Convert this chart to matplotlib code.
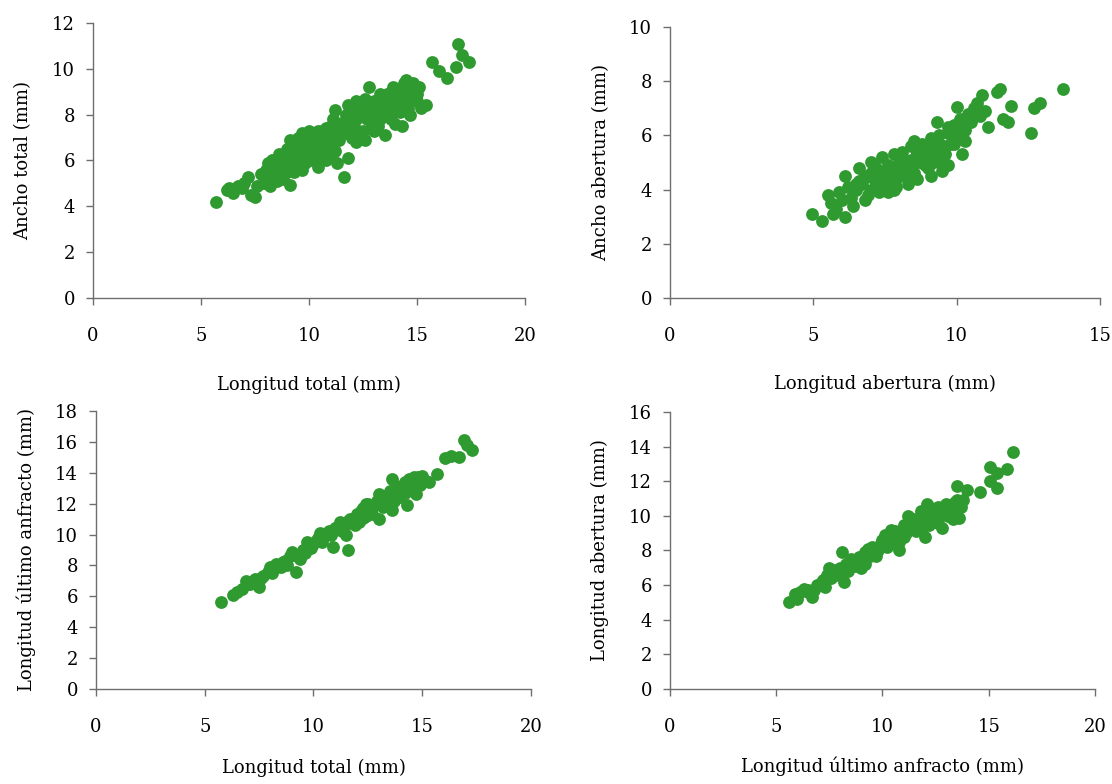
import matplotlib
matplotlib.use('Agg')
import matplotlib.pyplot as plt

# ---- data (mm) ----
# panel 1: longitud total vs ancho total
lt_1 = [5.7, 6.2, 6.3, 6.5, 6.7, 6.9, 7.0, 7.2, 7.3, 7.5, 7.6,
        7.8, 7.9, 8.0, 8.1, 8.2, 8.3, 8.4, 8.5, 8.5, 8.6, 8.7, 8.8, 8.9, 9.0, 8.2, 8.6, 9.0,
        9.1, 9.1, 9.2, 9.3, 9.4, 9.5, 9.5, 9.6, 9.7, 9.8, 9.9, 10.0, 10.0, 10.1, 10.2, 10.3,
        10.4, 10.4, 10.5, 9.3, 9.7, 10.2,
        10.6, 10.7, 10.8, 10.9, 11.0, 11.0, 11.1, 11.2, 11.3, 11.3, 11.4, 11.5, 11.6, 11.6,
        11.7, 11.8, 11.9, 12.0, 10.8, 11.2, 11.8,
        12.1, 12.2, 12.2, 12.3, 12.4, 12.5, 12.6, 12.6, 12.7, 12.8, 12.8, 12.9, 13.0, 13.1,
        13.2, 13.3, 13.4, 13.5, 12.4, 13.0, 13.3,
        13.6, 13.7, 13.8, 13.9, 14.0, 14.0, 14.1, 14.2, 14.3, 14.4, 14.4, 14.5, 14.6, 14.7,
        14.8, 14.9, 15.0, 15.1, 15.2, 15.4, 13.8, 14.3, 14.6,
        15.7, 16.0, 16.4, 16.8, 16.9, 17.1, 17.4,
        8.3, 8.7, 9.0, 9.2, 9.4, 9.6, 9.8, 10.0, 10.2, 10.4, 10.6, 10.8, 11.0, 11.2,
        11.4, 11.6, 11.8, 12.0, 12.2, 12.4, 12.6, 12.8, 13.0, 13.2, 13.4, 13.6, 13.8,
        14.0, 14.2, 14.4, 14.6, 14.8, 9.5, 10.3, 10.9, 11.5, 12.1, 12.7, 13.3, 13.9,
        14.5, 15.0]
at_1 = [4.2, 4.7, 4.8, 4.6, 4.9, 4.8, 5.0, 5.3, 4.5, 4.4, 4.9,
        5.4, 5.0, 5.6, 5.9, 5.3, 6.0, 5.5, 5.8, 5.1, 6.3, 5.7, 5.2, 6.0, 6.5, 4.9, 6.1, 5.5,
        6.9, 4.95, 6.2, 5.8, 6.6, 6.0, 7.0, 6.4, 7.2, 5.9, 6.8, 6.3, 7.3, 6.0, 6.9, 6.5,
        7.3, 5.7, 6.2, 5.5, 5.6, 7.0,
        7.0, 6.6, 7.4, 6.2, 7.1, 6.7, 7.8, 8.2, 5.9, 7.4, 6.9, 7.6, 5.3, 7.2,
        8.0, 6.1, 7.6, 7.0, 6.0, 6.4, 8.4,
        7.5, 8.6, 6.8, 7.9, 8.2, 7.3, 8.7, 6.9, 7.8, 9.2, 8.3, 7.6, 8.0, 8.6,
        7.5, 8.9, 8.2, 7.1, 7.2, 7.3, 7.8,
        8.4, 8.9, 7.8, 9.2, 8.5, 7.6, 9.0, 8.1, 7.5, 9.4, 8.6, 9.5, 8.9, 8.0,
        9.4, 8.7, 8.6, 9.2, 8.3, 8.4, 8.1, 8.8, 9.1,
        10.3, 9.9, 9.6, 10.1, 11.1, 10.6, 10.3,
        5.6, 5.9, 6.1, 5.9, 6.3, 6.5, 6.4, 6.8, 6.5, 6.9, 7.3, 6.8, 7.5, 7.0,
        7.6, 7.7, 7.3, 8.1, 7.8, 8.0, 8.2, 7.9, 8.6, 8.3, 8.7, 8.9, 8.6,
        9.1, 8.8, 9.0, 8.3, 9.0, 6.7, 6.7, 6.9, 7.3, 8.1, 8.5, 8.5, 8.8,
        8.4, 8.9]

# panel 2: longitud abertura vs ancho abertura
la_2 = [4.95, 5.3, 5.5, 5.7, 5.6, 5.9, 6.1, 6.0, 6.2, 6.3, 6.4, 5.8, 6.5, 6.1,
        6.6, 6.7, 6.8, 6.9, 7.0, 7.0, 7.1, 7.2, 7.3, 7.3, 7.4, 7.5, 7.6, 7.6, 7.7, 7.8,
        7.9, 8.0, 6.5, 6.9, 7.4, 7.8,
        8.1, 8.2, 8.3, 8.4, 8.4, 8.5, 8.6, 8.7, 8.8, 8.9, 9.0, 9.0, 9.1, 9.2, 9.3, 9.4,
        9.5, 8.2, 8.6, 9.1, 9.4,
        9.6, 9.7, 9.8, 9.9, 10.0, 10.0, 10.1, 10.2, 10.3, 10.4, 10.5, 10.6, 10.7, 10.8,
        10.9, 10.0, 9.7, 10.3,
        11.0, 11.1, 11.4, 11.5, 11.6, 11.8, 11.9, 12.6, 12.7, 12.9, 13.7,
        6.6, 6.8, 7.0, 7.2, 7.4, 7.6, 7.8, 8.0, 8.2, 8.4, 8.6, 8.8, 9.0, 9.2, 9.4, 9.6,
        9.8, 10.0, 10.2, 10.4, 7.1, 7.5, 7.9, 8.3, 8.7, 9.1, 9.5, 9.9, 10.3, 10.7,
        8.5, 8.9, 9.3, 9.7, 9.5, 9.2]
aa_2 = [3.1, 2.85, 3.8, 3.1, 3.5, 3.9, 3.0, 3.6, 4.1, 3.7, 3.4, 3.3, 4.0, 4.5,
        4.8, 4.2, 3.6, 4.5, 4.0, 5.0, 4.4, 4.8, 3.9, 4.6, 5.2, 4.3, 3.9, 4.9, 4.5, 5.3,
        4.1, 4.7, 4.2, 3.8, 4.0, 4.0,
        5.4, 4.9, 4.2, 5.1, 5.6, 4.6, 5.3, 5.0, 5.7, 5.2, 4.8, 5.5, 5.9, 5.0, 6.5, 5.6,
        4.7, 4.5, 4.4, 4.5, 6.0,
        5.3, 6.1, 5.7, 6.4, 7.05, 5.9, 6.6, 5.3, 6.2, 6.8, 6.5, 7.0, 7.2, 6.7,
        7.5, 6.3, 4.9, 5.8,
        6.9, 6.3, 7.6, 7.7, 6.6, 6.5, 7.1, 6.1, 7.0, 7.2, 7.7,
        4.3, 4.5, 4.6, 4.2, 4.6, 4.4, 4.8, 5.0, 5.1, 4.8, 5.4, 5.3, 5.6, 5.4, 5.7, 5.6,
        6.0, 6.2, 5.9, 6.5, 4.9, 4.7, 4.4, 4.7, 5.2, 5.1, 5.4, 5.7, 6.6, 6.9,
        5.8, 4.9, 5.2, 6.3, 5.0, 5.8]

# panel 3: longitud total vs longitud ultimo anfracto
lt_3 = [5.75, 6.3, 6.5, 6.7, 6.9, 7.1, 7.3, 7.5, 7.7, 7.9, 8.1, 8.3, 8.5, 8.7, 8.9,
        9.0, 9.2, 9.3, 9.5, 9.7, 9.9, 10.0, 10.2, 10.3, 10.5, 10.7, 10.9, 11.0, 11.2,
        11.4, 11.6, 11.6, 11.8, 12.0, 12.2, 12.3, 12.5, 12.6, 12.8, 13.0, 13.1, 13.3,
        13.5, 13.6, 13.6, 13.8, 14.0, 14.1, 14.3, 14.4, 14.6, 14.7, 14.9, 15.1, 15.3,
        15.7, 16.05, 16.3, 16.7, 16.9, 17.05, 17.3,
        8.0, 8.8, 9.4, 9.6, 10.1, 10.4, 10.8, 11.3, 11.5, 11.9, 12.1, 12.4, 12.7, 12.9,
        13.2, 13.4, 13.7, 13.9, 14.2, 14.5, 14.8, 14.2, 13.0, 12.4,
        7.0, 7.6, 8.2, 8.6, 9.1, 9.8, 10.6, 11.1, 11.7, 12.3, 12.9, 13.5, 14.0, 14.6,
        15.0, 10.2, 11.0, 12.6, 13.3, 14.4]
lua_3 = [5.6, 6.1, 6.3, 6.5, 7.0, 6.8, 7.1, 6.6, 7.3, 7.6, 7.5, 8.1, 7.9, 8.3, 8.6,
         8.9, 7.6, 8.7, 9.0, 9.5, 9.1, 9.4, 9.8, 10.1, 9.9, 10.2, 9.2, 10.4, 10.8,
         10.5, 9.0, 10.9, 11.0, 11.3, 11.5, 11.1, 12.0, 11.6, 11.9, 11.0, 12.3, 12.0,
         12.6, 13.6, 11.6, 12.8, 12.4, 13.2, 11.9, 12.9, 13.7, 12.6, 13.2, 13.5, 13.4,
         13.9, 14.95, 15.1, 15.0, 16.1, 15.8, 15.5,
         7.9, 8.0, 8.4, 8.8, 9.6, 9.5, 10.0, 10.2, 10.0, 10.6, 10.8, 11.2, 11.3, 12.2,
         11.8, 12.5, 12.2, 13.1, 12.7, 13.3, 13.7, 13.4, 12.6, 12.0,
         6.8, 7.2, 7.8, 8.2, 8.7, 9.3, 10.1, 10.5, 11.0, 11.7, 12.0, 12.8, 13.0, 13.4,
         13.8, 9.6, 10.3, 11.9, 12.5, 13.6]

# panel 4: longitud ultimo anfracto vs longitud abertura
lua_4 = [5.6, 5.9, 6.1, 6.3, 6.5, 6.7, 6.9, 7.1, 7.3, 7.4, 7.5, 7.6, 7.8, 8.0, 8.1,
         8.2, 8.3, 8.5, 8.7, 8.9, 9.0, 9.2, 9.4, 9.5, 9.7, 9.9, 10.0, 10.2, 10.4, 10.5,
         10.7, 10.8, 11.0, 11.1, 11.2, 11.3, 11.5, 11.6, 11.8, 12.0, 12.0, 12.1, 12.2,
         12.4, 12.5, 12.6, 12.8, 12.9, 13.0, 13.2, 13.3, 13.5, 13.6, 13.5, 14.0, 14.6,
         15.05, 15.4, 15.05, 15.4, 15.85, 16.15,
         6.0, 6.8, 7.2, 7.7, 8.4, 8.8, 9.1, 9.3, 9.6, 10.1, 10.3, 10.6, 10.9, 11.4,
         11.7, 11.9, 12.3, 12.7, 13.1, 13.4, 13.7, 12.2, 11.0, 9.8,
         6.5, 7.0, 7.5, 8.0, 8.5, 9.0, 9.5, 10.0, 10.5, 11.0, 11.5, 12.0, 12.5, 13.0,
         13.5, 13.8, 11.8, 12.6, 10.8, 9.2]
la_4 = [5.0, 5.5, 5.6, 5.8, 5.6, 5.3, 6.0, 6.1, 5.9, 6.6, 7.0, 6.4, 6.6, 7.0, 7.9,
        6.2, 7.2, 7.5, 7.1, 7.6, 7.0, 7.9, 7.7, 8.2, 7.7, 8.3, 8.6, 8.2, 9.2, 8.7,
        8.9, 8.0, 9.5, 9.0, 10.0, 9.3, 9.8, 9.1, 10.3, 8.8, 9.9, 10.7, 9.5,
        10.2, 9.8, 10.5, 9.3, 10.1, 10.6, 10.3, 9.8, 10.4, 9.9, 11.7, 11.5, 11.4,
        12.0, 11.6, 12.85, 12.5, 12.7, 13.7,
        5.2, 5.7, 6.3, 6.9, 6.8, 7.3, 7.5, 8.1, 7.9, 8.9, 8.4, 9.1, 9.2, 9.6,
        9.5, 9.8, 10.0, 10.3, 10.0, 10.8, 10.5, 10.5, 8.8, 8.0,
        5.7, 6.0, 6.4, 6.8, 7.2, 7.6, 7.9, 8.3, 8.7, 9.2, 9.6, 10.0, 10.4, 10.7,
        10.9, 10.9, 9.2, 9.6, 8.5, 7.2]

green = '#2e9a30'
axis_gray = '#6e6e6e'

plt.rcParams['font.family'] = 'DejaVu Serif'
plt.rcParams['font.size'] = 13

fig = plt.figure(figsize=(11.12, 7.84), dpi=100)

panels = [
    # rect, x, y, xmax, xstep, ymax, ystep, xlabel, ylabel, xlabel y, ylabel x
    ([0.0836, 0.6199, 0.3885, 0.3508], lt_1, at_1, 20, 5, 12, 2,
     'Longitud total (mm)', 'Ancho total (mm)', -0.316, -0.162),
    ([0.6025, 0.6199, 0.3867, 0.3457], la_2, aa_2, 15, 5, 10, 2,
     'Longitud abertura (mm)', 'Ancho abertura (mm)', -0.317, -0.160),
    ([0.0863, 0.1212, 0.3912, 0.3546], lt_3, lua_3, 20, 5, 18, 2,
     'Longitud total (mm)', 'Longitud último anfracto (mm)', -0.284, -0.161),
    ([0.6025, 0.1212, 0.3822, 0.3533], lua_4, la_4, 20, 5, 16, 2,
     'Longitud último anfracto (mm)', 'Longitud abertura (mm)', -0.278, -0.165),
]

for rect, xs, ys, xmax, xstep, ymax, ystep, xlab, ylab, xly, ylx in panels:
    ax = fig.add_axes(rect)
    ax.scatter(xs, ys, s=85, c=green, linewidths=0, zorder=3, clip_on=False)
    ax.set_xlim(0, xmax)
    ax.set_ylim(0, ymax)
    ax.set_xticks(range(0, xmax + 1, xstep))
    ax.set_yticks(range(0, ymax + 1, ystep))
    for side in ['top', 'right']:
        ax.spines[side].set_visible(False)
    for side in ['left', 'bottom']:
        ax.spines[side].set_color(axis_gray)
        ax.spines[side].set_linewidth(1.0)
    ax.tick_params(axis='both', direction='out', length=5, width=1.0,
                   color=axis_gray, labelcolor='black', labelsize=13)
    ax.tick_params(axis='x', pad=16)
    ax.tick_params(axis='y', pad=8)
    ax.set_xlabel(xlab, fontsize=13, va='center')
    ax.set_ylabel(ylab, fontsize=13, va='center')
    ax.xaxis.set_label_coords(0.5, xly)
    ax.yaxis.set_label_coords(ylx, 0.5)

fig.savefig('out.png', dpi=100)
